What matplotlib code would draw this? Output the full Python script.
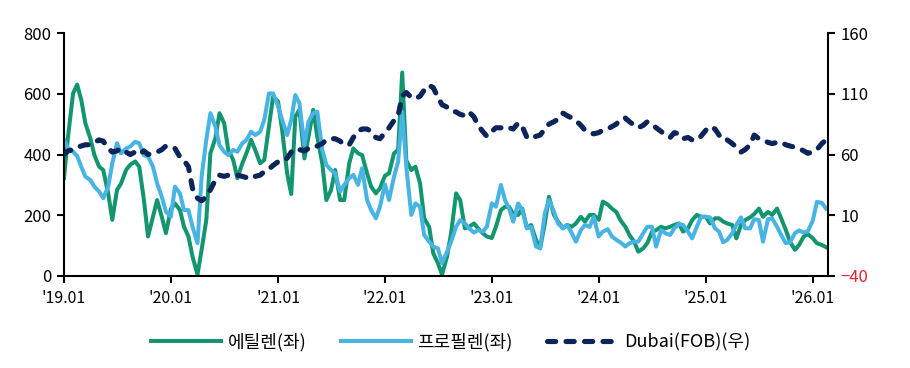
import matplotlib.pyplot as plt
import pandas as pd

plt.rcParams['font.family'] = ['Noto Sans CJK KR', 'DejaVu Sans']

# semi-monthly points, 2019.01 ~ 2026.02
dates = pd.date_range('2019-01-01', periods=172, freq='SMS')

ethylene = [
    322, 460, 601, 630, 580, 503, 453, 398, 360, 349, 272, 185, 283, 305, 349, 366, 377, 360, 250, 130, 195, 250, 195, 141,
    220, 239, 217, 162, 130, 64, 5, 86, 184, 404, 453, 536, 503, 415, 382, 322, 371, 404, 448, 415, 371, 382, 492, 590,
    575, 481, 338, 270, 525, 547, 387, 459, 547, 459, 371, 250, 283, 349, 250, 250, 371, 420, 404, 398, 338, 294, 272, 289,
    330, 338, 404, 415, 670, 380, 349, 360, 305, 190, 162, 75, 42, 5, 64, 141, 272, 250, 157, 162, 173, 157, 141, 130,
    125, 162, 217, 228, 228, 204, 201, 222, 157, 168, 119, 91, 173, 261, 201, 179, 157, 168, 162, 173, 195, 179, 201, 201,
    185, 245, 235, 222, 211, 184, 162, 135, 113, 80, 91, 108, 146, 151, 162, 157, 162, 168, 173, 146, 157, 184, 201, 195,
    195, 173, 190, 190, 179, 173, 168, 124, 168, 184, 193, 204, 222, 195, 211, 201, 222, 190, 151, 113, 86, 102, 130, 138,
    124, 108, 102, 95,
]

propylene = [
    448, 420, 409, 395, 360, 327, 316, 294, 278, 256, 294, 371, 437, 404, 420, 426, 442, 437, 398, 393, 360, 305, 261, 212,
    195, 294, 272, 217, 217, 162, 108, 327, 448, 536, 492, 431, 409, 398, 415, 409, 437, 448, 475, 464, 475, 514, 601, 601,
    560, 514, 464, 514, 596, 569, 431, 508, 536, 541, 415, 366, 349, 338, 278, 300, 322, 333, 300, 355, 250, 217, 190, 228,
    302, 250, 327, 377, 540, 360, 201, 239, 228, 135, 113, 97, 91, 42, 80, 113, 162, 184, 173, 157, 143, 151, 146, 162,
    239, 228, 300, 250, 222, 179, 239, 217, 157, 162, 97, 91, 206, 250, 212, 173, 157, 168, 141, 113, 151, 168, 162, 195,
    130, 146, 154, 130, 119, 111, 97, 108, 113, 113, 141, 162, 162, 97, 151, 141, 135, 157, 171, 168, 146, 124, 162, 193,
    195, 193, 157, 146, 111, 119, 141, 168, 193, 157, 157, 187, 184, 113, 187, 190, 162, 135, 108, 111, 141, 150, 143, 147,
    182, 244, 241, 222,
]

dubai = [
    60, 63, 64, 66, 67, 68, 68, 70, 72, 71, 65, 62, 63, 65, 62, 60, 62, 60, 63, 60, 61, 62, 64, 67,
    66, 65, 58, 55, 50, 32, 24, 22, 25, 31, 39, 43, 42, 43, 43, 43, 42, 41, 40, 42, 43, 46, 48, 51,
    54, 54, 57, 62, 65, 64, 63, 65, 65, 67, 69, 72, 73, 73, 71, 68, 68, 74, 79, 81, 81, 79, 74, 73,
    78, 82, 88, 92, 108, 111, 107, 106, 108, 113, 117, 115, 107, 101, 99, 96, 95, 93, 92, 95, 91, 84, 79, 75,
    79, 82, 82, 83, 82, 81, 86, 83, 74, 73, 75, 76, 81, 85, 87, 89, 94, 92, 90, 88, 84, 80, 78, 77,
    78, 80, 81, 83, 85, 89, 90, 87, 84, 82, 84, 87, 85, 82, 79, 76, 74, 78, 77, 73, 74, 72, 72, 75,
    80, 83, 81, 76, 72, 72, 69, 66, 62, 64, 68, 76, 73, 72, 70, 69, 70, 70, 68, 67, 66, 65, 63, 61,
    62, 64, 69, 72,
]

years = list(range(2019, 2027))
xlabels = ["'%02d.01" % (y % 100) for y in years]

c_eth = '#13966f'
c_pro = '#48b4e4'
c_dub = '#0b2459'

fig = plt.figure(figsize=(9.1, 3.68), dpi=100)
ax = fig.add_axes([0.0703, 0.25, 0.8396, 0.6603])
ax2 = ax.twinx()

l1, = ax.plot(dates, ethylene, color=c_eth, lw=2.9, solid_joinstyle='round', label='에틸렌(좌)')
l2, = ax.plot(dates, propylene, color=c_pro, lw=2.9, solid_joinstyle='round', label='프로필렌(좌)')
l3, = ax2.plot(dates, dubai, color=c_dub, lw=3.7, dashes=(1.6, 2.0), dash_capstyle='round',
               label='Dubai(FOB)(우)')

ax.set_ylim(0, 800)
ax.set_yticks([0, 200, 400, 600, 800])
ax2.set_ylim(-40, 160)
ax2.set_yticks([-40, 10, 60, 110, 160])

ax.set_xlim(pd.Timestamp('2019-01-01'), pd.Timestamp('2026-02-22'))
ax.set_xticks([pd.Timestamp('%d-01-01' % y) for y in years])
ax.set_xticklabels(xlabels)

for a in (ax, ax2):
    a.spines['top'].set_visible(False)
    for s in ('left', 'right', 'bottom'):
        a.spines[s].set_linewidth(1.5)
    a.tick_params(axis='y', labelsize=12, width=1.5, length=5, colors='black', pad=4)
ax.tick_params(axis='x', labelsize=11.5, width=1.5, length=5, pad=5)
ax.spines['right'].set_visible(False)
ax2.spines['left'].set_visible(False)
ax2.spines['bottom'].set_visible(False)
ax2.get_yticklabels()[0].set_color('#e8202a')

fig.legend(handles=[l1, l2, l3], loc='lower center', bbox_to_anchor=(0.495, 0.0), ncol=3,
           frameon=False, fontsize=13, handlelength=3.9, handletextpad=0.35, columnspacing=1.9)

fig.savefig('out.png', dpi=100)
